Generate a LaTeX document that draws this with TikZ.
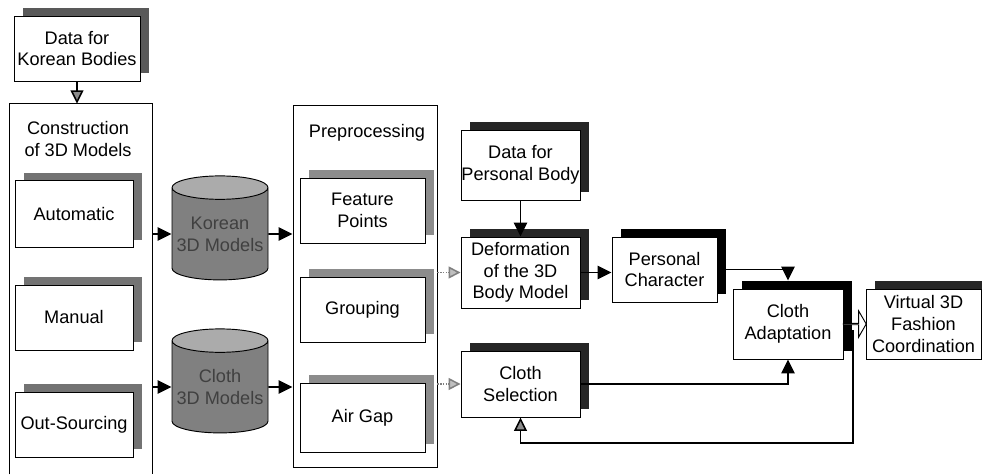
\documentclass[tikz,border=0pt]{standalone}
\usepackage{fontspec}
\setmainfont{Liberation Sans}
\usetikzlibrary{arrows.meta,calc,shadows,shapes.geometric,shapes.arrows}

\begin{document}
\begin{tikzpicture}[
  x=0.03cm, y=-0.03cm,
  every node/.style={font=\fontsize{15.5}{18.6}\selectfont, align=center, inner sep=0pt},
  shBox/.style={draw, line width=0.8pt, fill=white,
                general shadow={shadow xshift=0.27cm, shadow yshift=0.24cm, fill=#1}},
  shBox/.default=black!55,
  dbCyl/.style={cylinder, shape border rotate=90, aspect=0.27, draw, line width=0.8pt,
                minimum width=2.88cm, minimum height=3.12cm, cylinder uses custom fill,
                cylinder body fill=black!50, cylinder end fill=black!33, text=black!75},
  arr/.style={line width=1.3pt, -{Triangle[length=0.42cm, width=0.4cm]}},
  grayArr/.style={line width=1.3pt, -{Triangle[length=0.4cm, width=0.38cm, fill=black!45]}},
  dotArr/.style={line width=1.3pt, draw=black!50, densely dotted,
                 -{Triangle[length=0.36cm, width=0.36cm, fill=black!25]}},
  fatArrow/.style={single arrow, draw, line width=0.8pt, fill=white, minimum height=0.69cm,
                   minimum width=0.78cm, single arrow head extend=0.24cm,
                   single arrow tip angle=120}
]
  \useasboundingbox (0,0) rectangle (982,474);

  % left column
  \node[shBox=black!65, minimum width=3.78cm, minimum height=1.95cm] (kbody) at (77,48.5)
    {Data for\\Korean Bodies};
  \node[minimum width=4.26cm, minimum height=11.1cm] (constr) at (81,289) {};
  \draw[line width=0.8pt] (constr.south west) |- (constr.north east) -- (constr.south east);
  \node (constrTitle) at (78,139) {Construction\\of 3D Models};
  \node[shBox, minimum width=3.54cm, minimum height=2.01cm] (auto) at (74,214) {Automatic};
  \node[shBox, minimum width=3.54cm, minimum height=1.95cm] (manual) at (74,317.5) {Manual};
  \node[shBox, minimum width=3.54cm, minimum height=1.95cm] (outsrc) at (74,424.5) {Out-Sourcing};

  % databases
  \node[dbCyl] (kcyl) at (220,234) {Korean\\3D Models};
  \node[dbCyl] (ccyl) at (220,387) {Cloth\\3D Models};

  % preprocessing
  \node[draw, line width=0.8pt, minimum width=4.32cm, minimum height=10.86cm] (prep) at (365,286) {};
  \node (prepTitle) at (367,133) {Preprocessing};
  \node[shBox=black!45, minimum width=3.75cm, minimum height=1.95cm] (feat) at (362.5,210.5)
    {Feature\\Points};
  \node[shBox=black!45, minimum width=3.75cm, minimum height=1.95cm] (group) at (362.5,309.5)
    {Grouping};
  \node[shBox=black!45, minimum width=3.75cm, minimum height=2.07cm] (airgap) at (362.5,417.5)
    {Air Gap};

  % personal body
  \node[shBox=black!85, minimum width=3.57cm, minimum height=2.1cm] (pbody) at (520.5,165)
    {Data for\\Personal Body};
  \node[shBox=black!85, minimum width=3.57cm, minimum height=2.13cm] (deform) at (520.5,272.5)
    {Deformation\\of the 3D\\Body Model};
  \node[shBox=black!85, minimum width=3.57cm, minimum height=1.98cm] (clothsel) at (520.5,384)
    {Cloth\\Selection};
  \node[shBox=black, minimum width=3.15cm, minimum height=1.95cm] (pchar) at (664.5,269.5)
    {Personal\\Character};
  \node[shBox=black, minimum width=3.3cm, minimum height=2.1cm] (adapt) at (788,324)
    {Cloth\\Adaptation};
  \node[shBox=black!85, minimum width=3.45cm, minimum height=2.1cm] (virt) at (923.5,324)
    {Virtual 3D\\Fashion\\Coordination};

  % connectors
  \draw[grayArr] (kbody.south) -- (kbody.south |- constr.north);
  \draw[arr] (constr.east |- kcyl) -- (kcyl);
  \draw[arr] (constr.east |- ccyl) -- (ccyl);
  \draw[arr] (kcyl) -- (kcyl -| prep.west);
  \draw[arr] (ccyl) -- (ccyl -| prep.west);
  \draw[dotArr] (prep.east |- deform) -- (deform);
  \draw[dotArr] (prep.east |- clothsel) -- (clothsel);
  \draw[arr] (pbody) -- (deform);
  \draw[arr] (deform.east) -- (deform.east -| pchar.west);
  \draw[arr] (pchar.east) -| ([yshift=0.24cm]adapt.north);
  \draw[arr] (clothsel.east) -| (adapt.south);
  \node[fatArrow] (fat) at ($(adapt.east)!0.5!(virt.west)$) {};
  \coordinate (fbStart) at (853,330);
  \coordinate (fbTurn) at (853,443);
  \draw[grayArr] (fbStart) -- (fbTurn) -| (clothsel.south);
\end{tikzpicture}
\end{document}
